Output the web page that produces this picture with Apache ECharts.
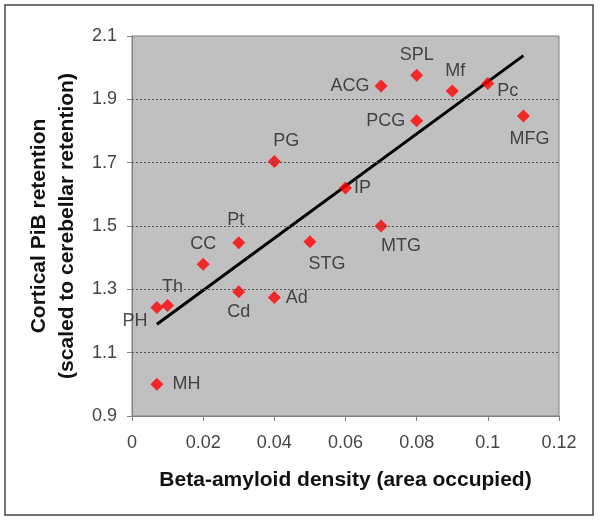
<!DOCTYPE html>
<html>
<head>
<meta charset="utf-8">
<script src="https://cdn.jsdelivr.net/npm/echarts@6/dist/echarts.min.js"></script>
<style>html,body{margin:0;padding:0;background:#fff}#c{width:600px;height:520px}</style>
</head>
<body>
<div id="c"></div>
<script>
const regions = ['ACG','SPL','Mf','Pc','MFG','PCG','PG','IP','MTG','STG','Pt','CC','Cd','Ad','Th','PH','MH'];
const density = [0.07,0.08,0.09,0.10,0.11,0.08,0.04,0.06,0.07,0.05,0.03,0.02,0.03,0.04,0.01,0.007,0.007];
const retention = [1.942,1.976,1.926,1.950,1.847,1.832,1.704,1.620,1.500,1.450,1.447,1.379,1.292,1.274,1.249,1.243,1.000];
const trendX = [0.007,0.110];
const trendY = [1.190,2.038];
const xTicks = [0,0.02,0.04,0.06,0.08,0.1,0.12];
const yTicks = [0.9,1.1,1.3,1.5,1.7,1.9,2.1];
const yGridLines = [1.1,1.3,1.5,1.7,1.9];

const labelPos = {
  ACG:{position:'left'}, SPL:{position:'top'}, Mf:{position:'top',offset:[3,0]},
  Pc:{position:'right',offset:[-2,8]}, MFG:{position:'bottom',offset:[6,2]},
  PCG:{position:'left'}, PG:{position:'top',offset:[12,0]}, IP:{position:'right',offset:[-3,0]},
  MTG:{position:'bottom',offset:[20,0]}, STG:{position:'bottom',offset:[17,2]},
  Pt:{position:'top',offset:[-3,-2]}, CC:{position:'top'}, Cd:{position:'bottom'},
  Ad:{position:'right'}, Th:{position:'top',offset:[5,2]}, PH:{position:'left',offset:[2,14]},
  MH:{position:'right',offset:[4,0]}
};

const pts = regions.map((r,i)=>({
  value:[density[i], retention[i]], name:r,
  label:Object.assign({show:true, formatter:r}, labelPos[r])
}));

const chart = echarts.init(document.getElementById('c'), null, {renderer:'canvas'});
const font = 'Liberation Sans';
chart.setOption({
  animation:false,
  backgroundColor:'#fff',
  graphic:[{type:'rect', shape:{x:5,y:5,width:588,height:510}, style:{fill:'none', stroke:'#444', lineWidth:1.5}, z:-1}],
  grid:{left:132, right:41, top:36, bottom:104, show:true, backgroundColor:'#c0c0c0', borderColor:'#808080', borderWidth:1},
  xAxis:{
    type:'value', min:0, max:0.12, interval:0.02,
    name:'Beta-amyloid density (area occupied)', nameLocation:'middle', nameGap:54,
    nameTextStyle:{fontFamily:font, fontSize:21, fontWeight:'bold', color:'#111'},
    axisLine:{show:true, lineStyle:{color:'#808080', width:1}},
    axisTick:{show:true, inside:false, length:5, lineStyle:{color:'#808080'}},
    axisLabel:{fontFamily:font, fontSize:18, color:'#444', margin:18, formatter:v=>String(+v.toFixed(2))},
    splitLine:{show:false}
  },
  yAxis:{
    type:'value', min:0.9, max:2.1, interval:0.2,
    name:'Cortical PiB retention\n(scaled to cerebellar retention)', nameLocation:'middle', nameGap:50,
    nameTextStyle:{fontFamily:font, fontSize:21, fontWeight:'bold', color:'#111', lineHeight:28},
    axisLine:{show:true, lineStyle:{color:'#808080', width:1}},
    axisTick:{show:true, length:5, lineStyle:{color:'#808080'}, customValues:yTicks},
    axisLabel:{fontFamily:font, fontSize:18, color:'#444', margin:15, customValues:yTicks, formatter:v=>v.toFixed(1)},
    splitLine:{show:false}
  },
  series:[
    {
      type:'line', data:yGridLines.map(v=>[0,v]), symbol:'none', lineStyle:{width:0}, silent:true,
      markLine:{silent:true, symbol:'none', label:{show:false},
        lineStyle:{color:'#555', type:[2,2], width:1},
        data:yGridLines.map(v=>({yAxis:v}))}
    },
    {
      type:'line', data:trendX.map((x,i)=>[x,trendY[i]]), symbol:'none',
      lineStyle:{color:'#000', width:3}, z:3
    },
    {
      type:'scatter', data:pts, symbol:'diamond', symbolSize:13,
      itemStyle:{color:'#ff0000'}, z:4,
      label:{fontFamily:font, fontSize:18, color:'#222', distance:5}
    }
  ]
});
</script>
</body>
</html>
